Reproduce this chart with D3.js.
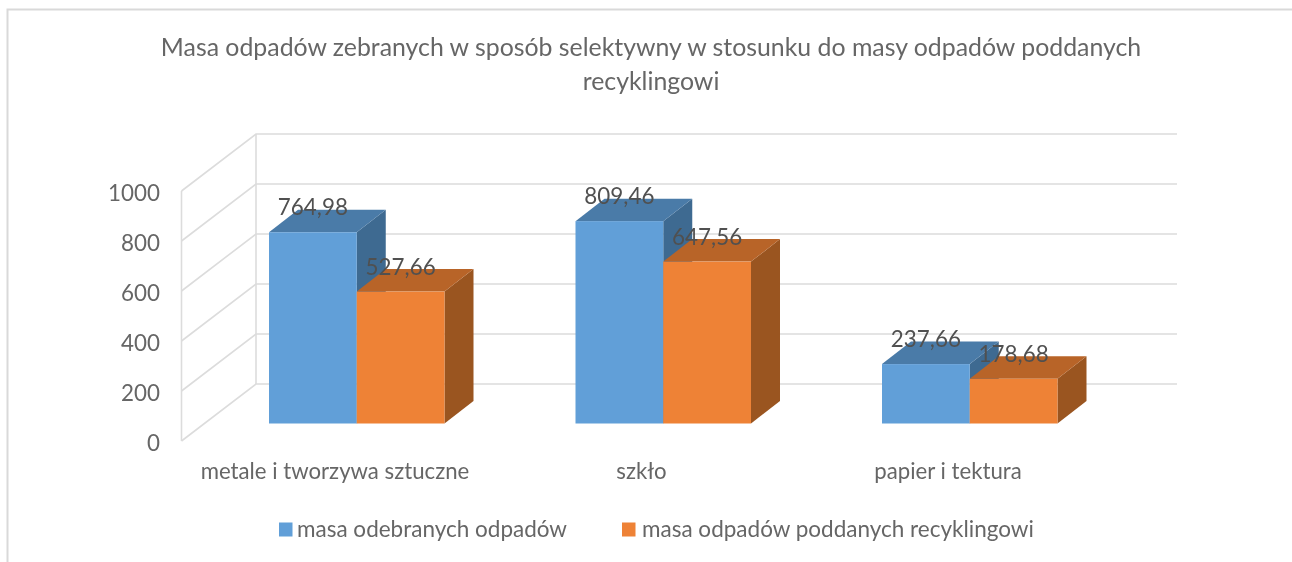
<!DOCTYPE html>
<html><head><meta charset="utf-8">
<script src="https://cdn.jsdelivr.net/npm/d3@7/dist/d3.min.js"></script>
<style>html,body{margin:0;padding:0;background:#fff}svg{display:block;filter:blur(0.5px)}text{font-family:Lato,"Open Sans",sans-serif}</style>
</head><body><div id="c"></div>
<script>
const titleLines = ["Masa odpadów zebranych w sposób selektywny w stosunku do masy odpadów poddanych","recyklingowi"];
const categories = ["metale i tworzywa sztuczne","szkło","papier i tektura"];
const seriesNames = ["masa odebranych odpadów","masa odpadów poddanych recyklingowi"];
const odebrane = [764.98,809.46,237.66];
const recykling = [527.66,647.56,178.68];
const yTicks = [0,200,400,600,800,1000];
const fills = ["#619fd8","#ee8236"];
const tops = ["#4a7ba8","#b86428"];
const sides = ["#3e6a91","#9a5520"];

const W=1292,H=562;
const svg=d3.select("#c").append("svg").attr("width",W).attr("height",H);
// frame
svg.append("path").attr("d",`M7.5,562V9.5H${W}`).attr("fill","none").attr("stroke","#d9d9d9").attr("stroke-width",2);

const yFront=d3.scaleLinear().domain([0,1000]).range([441,191]);
const yBack=d3.scaleLinear().domain([0,1000]).range([384,134]);
const yBar=d3.scaleLinear().domain([0,1000]).range([423.5,173.5]);
const xFront=181.5,xBack=256,xRight=1177;
const grid=svg.append("g").attr("fill","none").attr("stroke","#dcdcdc").attr("stroke-width",1.6);
yTicks.forEach(t=>{
  grid.append("path").attr("d",`M${xFront},${yFront(t)}L${xBack},${yBack(t)}H${xRight}`);
});
grid.append("path").attr("d",`M${xFront},${yFront(0)}V${yFront(1000)}`);
grid.append("path").attr("d",`M${xBack},${yBack(0)}V${yBack(1000)}`);

// y axis labels
const ax=svg.append("g").attr("transform","translate(160,0)").call(d3.axisLeft(yFront).tickValues(yTicks).tickSize(0).tickPadding(0).tickFormat(d3.format("d")));
ax.select(".domain").remove();
ax.selectAll("text").attr("fill","#666666").style("font-family","Lato").style("font-size","22.4px").attr("dy","0.42em");

// bars
const xGroup=d3.scaleBand().domain(categories).range([269,269+306.5*3]).paddingInner(0).paddingOuter(0);
const xSeries=d3.scaleBand().domain([0,1]).range([0,175.5]);
const dx=29,dy=22.5;
const series=[odebrane,recykling];
const barsG=svg.append("g");
categories.forEach((c,i)=>{
  series.forEach((vals,s)=>{
    const x0=xGroup(c)+xSeries(s),x1=x0+xSeries.bandwidth(),yt=yBar(vals[i]),yb=yBar(0);
    const g=barsG.append("g");
    g.append("path").attr("fill",sides[s]).attr("d",`M${x1},${yt}L${x1+dx},${yt-dy}V${yb-dy}L${x1},${yb}Z`);
    g.append("path").attr("fill",tops[s]).attr("d",`M${x0},${yt}L${x0+dx},${yt-dy}H${x1+dx}L${x1},${yt}Z`);
    g.append("rect").attr("x",x0).attr("y",yt).attr("width",x1-x0).attr("height",yb-yt).attr("fill",fills[s]);
  });
});
// data labels
categories.forEach((c,i)=>{
  series.forEach((vals,s)=>{
    svg.append("text").attr("x",xGroup(c)+xSeries(s)+xSeries.bandwidth()/2).attr("y",yBar(vals[i])-17)
      .attr("text-anchor","middle").attr("fill","#505050").style("font-size","22.4px")
      .text(d3.format(".2f")(vals[i]).replace(".",","));
  });
});
// category labels
categories.forEach((c,i)=>{
  svg.append("text").attr("x",xGroup(c)+66).attr("y",479).attr("text-anchor","middle").attr("fill","#666666").style("font-size","22.2px").text(c);
});
// title
titleLines.forEach((t,i)=>{
  svg.append("text").attr("x",651).attr("y",56+i*34).attr("text-anchor","middle").attr("fill","#666666").style("font-size","24.85px").text(t);
});
// legend
const legX=[279,622],legT=[297,642];
seriesNames.forEach((n,i)=>{
  svg.append("rect").attr("x",legX[i]).attr("y",522.5).attr("width",13.5).attr("height",14).attr("fill",fills[i]);
  svg.append("text").attr("x",legT[i]).attr("y",536.5).attr("fill","#666666").style("font-size","22.5px").text(n);
});
</script></body></html>
